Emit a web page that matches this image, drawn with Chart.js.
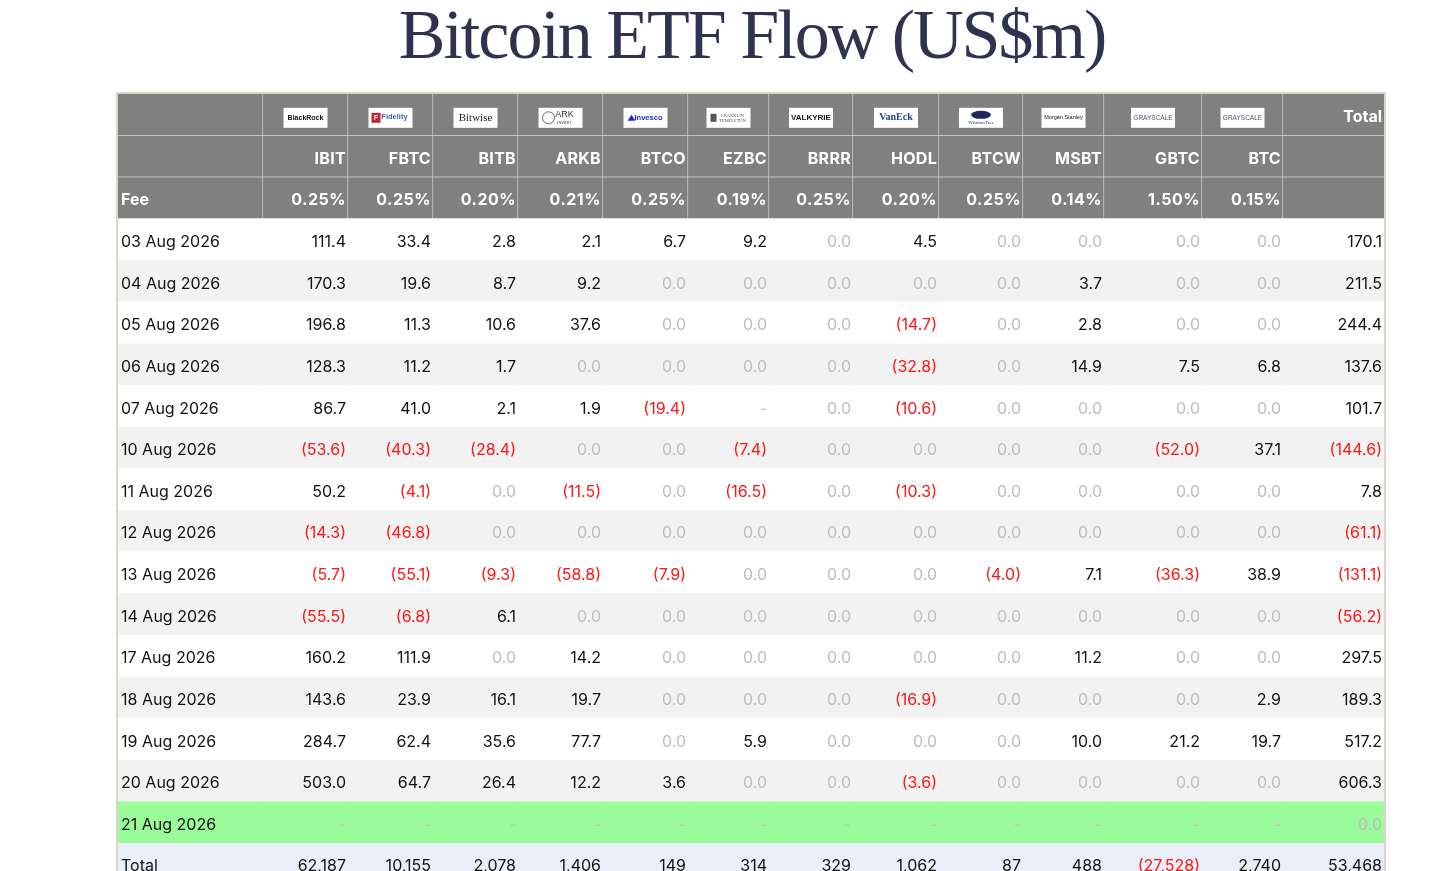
<!DOCTYPE html>
<html lang="en">
<head>
    <meta charset="UTF-8">
    <title>Bitcoin ETF Flow (US$m)</title>
    <script src="https://cdn.jsdelivr.net/npm/chart.js"></script>
    <style>
        * {
            margin: 0;
            padding: 0;
            box-sizing: border-box;
        }

        body {
            background: #ffffff;
            width: 1456px;
            height: 871px;
            overflow: hidden;
            position: relative;
        }

        h1 {
            position: absolute;
            top: 0;
            left: 752px;
            transform: translateX(-50%);
            white-space: nowrap;
            font-family: "Liberation Serif", "Times New Roman", serif;
            font-weight: normal;
            font-size: 70px;
            line-height: 70px;
            letter-spacing: -2px;
            color: #2f3350;
        }

        .table-wrap {
            position: absolute;
            left: 116px;
            top: 92px;
            width: 1270px;
            height: 796px;
        }
    </style>
</head>
<body>
    <h1>Bitcoin ETF Flow (US$m)</h1>
    <div class="table-wrap">
        <canvas id="flow-table"></canvas>
    </div>

    <script>
        // table content
        const dates = ['03 Aug 2026', '04 Aug 2026', '05 Aug 2026', '06 Aug 2026', '07 Aug 2026',
            '10 Aug 2026', '11 Aug 2026', '12 Aug 2026', '13 Aug 2026', '14 Aug 2026',
            '17 Aug 2026', '18 Aug 2026', '19 Aug 2026', '20 Aug 2026', '21 Aug 2026'];
        const tickers = ['IBIT', 'FBTC', 'BITB', 'ARKB', 'BTCO', 'EZBC', 'BRRR', 'HODL', 'BTCW', 'MSBT', 'GBTC', 'BTC'];
        const issuers = ['BlackRock', 'Fidelity', 'Bitwise', 'ARK', 'Invesco', 'FRANKLIN TEMPLETON',
            'VALKYRIE', 'VanEck', 'WisdomTree', 'Morgan Stanley', 'GRAYSCALE', 'GRAYSCALE'];
        const fees = [0.25, 0.25, 0.20, 0.21, 0.25, 0.19, 0.25, 0.20, 0.25, 0.14, 1.50, 0.15];

        // daily flows per fund, null = no figure yet
        const IBIT = [111.4, 170.3, 196.8, 128.3, 86.7, -53.6, 50.2, -14.3, -5.7, -55.5, 160.2, 143.6, 284.7, 503.0, null];
        const FBTC = [33.4, 19.6, 11.3, 11.2, 41.0, -40.3, -4.1, -46.8, -55.1, -6.8, 111.9, 23.9, 62.4, 64.7, null];
        const BITB = [2.8, 8.7, 10.6, 1.7, 2.1, -28.4, 0, 0, -9.3, 6.1, 0, 16.1, 35.6, 26.4, null];
        const ARKB = [2.1, 9.2, 37.6, 0, 1.9, 0, -11.5, 0, -58.8, 0, 14.2, 19.7, 77.7, 12.2, null];
        const BTCO = [6.7, 0, 0, 0, -19.4, 0, 0, 0, -7.9, 0, 0, 0, 0, 3.6, null];
        const EZBC = [9.2, 0, 0, 0, null, -7.4, -16.5, 0, 0, 0, 0, 0, 5.9, 0, null];
        const BRRR = [0, 0, 0, 0, 0, 0, 0, 0, 0, 0, 0, 0, 0, 0, null];
        const HODL = [4.5, 0, -14.7, -32.8, -10.6, 0, -10.3, 0, 0, 0, 0, -16.9, 0, -3.6, null];
        const BTCW = [0, 0, 0, 0, 0, 0, 0, 0, -4.0, 0, 0, 0, 0, 0, null];
        const MSBT = [0, 3.7, 2.8, 14.9, 0, 0, 0, 0, 7.1, 0, 11.2, 0, 10.0, 0, null];
        const GBTC = [0, 0, 0, 7.5, 0, -52.0, 0, 0, -36.3, 0, 0, 0, 21.2, 0, null];
        const BTC = [0, 0, 0, 6.8, 0, 37.1, 0, 0, 38.9, 0, 0, 2.9, 19.7, 0, null];
        const dailyTotal = [170.1, 211.5, 244.4, 137.6, 101.7, -144.6, 7.8, -61.1, -131.1, -56.2, 297.5, 189.3, 517.2, 606.3, 0.0];
        const fundTotals = [62187, 10155, 2078, 1406, 149, 314, 329, 1062, 87, 488, -27528, 2740];
        const grandTotal = 53468;

        const flows = [IBIT, FBTC, BITB, ARKB, BTCO, EZBC, BRRR, HODL, BTCW, MSBT, GBTC, BTC];

        // layout
        const colWidths = [145, 85, 85, 85, 85, 85, 81, 84, 86, 84, 81, 98, 81, 101];
        const rowKeys = ['logo', 'ticker', 'fee', ...dates, 'Total'];
        const HEADER_ROWS = 3;
        const FONT = 'Inter, "Liberation Sans", Arial, sans-serif';

        const colEdges = [0];
        colWidths.forEach(w => colEdges.push(colEdges[colEdges.length - 1] + w));
        const tableWidth = colEdges[colEdges.length - 1];

        function rowColor(r) {
            if (r < HEADER_ROWS) return '#808080';
            if (r === rowKeys.length - 1) return '#e9eef9';
            const d = r - HEADER_ROWS;
            if (d === dates.length - 1) return '#99fb99';
            return d % 2 ? '#f2f2f2' : '#ffffff';
        }

        function fmtDaily(v) {
            if (v === null) return { text: '-', color: '#c4c4c4' };
            if (v === 0) return { text: '0.0', color: '#bdbdbd' };
            if (v < 0) return { text: '(' + Math.abs(v).toFixed(1) + ')', color: '#ff1414' };
            return { text: v.toFixed(1), color: '#111111' };
        }

        function fmtTotal(v) {
            const s = Math.abs(v).toLocaleString('en-US');
            return v < 0 ? { text: '(' + s + ')', color: '#ff1414' } : { text: s, color: '#111111' };
        }

        function drawLogo(ctx, f, cx, cy) {
            const w = 44, h = 20;
            ctx.fillStyle = '#ffffff';
            ctx.fillRect(cx - w / 2, cy - h / 2, w, h);
            ctx.textAlign = 'center';
            ctx.textBaseline = 'middle';
            const name = issuers[f];
            switch (name) {
                case 'BlackRock':
                    ctx.font = 'bold 7px "Liberation Sans", Arial';
                    ctx.fillStyle = '#111';
                    ctx.fillText(name, cx, cy);
                    break;
                case 'Fidelity':
                    ctx.fillStyle = '#c4262e';
                    ctx.fillRect(cx - 19, cy - 5, 9, 10);
                    ctx.font = 'bold 7px "Liberation Sans", Arial';
                    ctx.fillStyle = '#fff';
                    ctx.fillText('F', cx - 14.5, cy);
                    ctx.fillStyle = '#3b63b5';
                    ctx.font = 'bold 7.5px "Liberation Sans", Arial';
                    ctx.fillText(name, cx + 4, cy - 1);
                    break;
                case 'Bitwise':
                    ctx.font = '11px "Liberation Serif", serif';
                    ctx.fillStyle = '#222';
                    ctx.fillText(name, cx, cy);
                    break;
                case 'ARK':
                    ctx.strokeStyle = '#444';
                    ctx.lineWidth = 0.8;
                    ctx.beginPath();
                    ctx.arc(cx - 12, cy, 6, 0, Math.PI * 2);
                    ctx.stroke();
                    ctx.font = '9px "Liberation Sans", Arial';
                    ctx.fillStyle = '#333';
                    ctx.fillText(name, cx + 4, cy - 3);
                    ctx.font = '4px "Liberation Sans", Arial';
                    ctx.fillText('INVEST', cx + 4, cy + 5);
                    break;
                case 'Invesco':
                    ctx.fillStyle = '#1d2fd6';
                    ctx.beginPath();
                    ctx.moveTo(cx - 18, cy + 3);
                    ctx.lineTo(cx - 14, cy - 3);
                    ctx.lineTo(cx - 10, cy + 3);
                    ctx.fill();
                    ctx.font = 'bold 7.5px "Liberation Sans", Arial';
                    ctx.fillText(name, cx + 3, cy);
                    break;
                case 'FRANKLIN TEMPLETON':
                    ctx.fillStyle = '#555';
                    ctx.fillRect(cx - 18, cy - 4, 6, 8);
                    ctx.font = '4.5px "Liberation Serif", serif';
                    ctx.fillText('FRANKLIN', cx + 4, cy - 2.5);
                    ctx.fillText('TEMPLETON', cx + 4, cy + 2.5);
                    break;
                case 'VALKYRIE':
                    ctx.font = 'bold 8px "Liberation Sans", Arial';
                    ctx.fillStyle = '#111';
                    ctx.fillText(name, cx, cy);
                    break;
                case 'VanEck':
                    ctx.font = 'bold 10px "Liberation Serif", serif';
                    ctx.fillStyle = '#1d3f9a';
                    ctx.fillText(name, cx, cy);
                    break;
                case 'WisdomTree':
                    ctx.fillStyle = '#1e2a5e';
                    ctx.beginPath();
                    ctx.ellipse(cx, cy - 3, 10, 4, 0, 0, Math.PI * 2);
                    ctx.fill();
                    ctx.font = '5px "Liberation Serif", serif';
                    ctx.fillText(name, cx, cy + 5);
                    break;
                case 'Morgan Stanley':
                    ctx.font = '5.5px "Liberation Sans", Arial';
                    ctx.fillStyle = '#111';
                    ctx.fillText(name, cx, cy);
                    break;
                default:
                    ctx.font = '6.5px "Liberation Sans", Arial';
                    ctx.fillStyle = '#4e4e70';
                    ctx.fillText(name, cx, cy);
            }
        }

        function drawCell(ctx, c, r, left, right, y) {
            const last = rowKeys.length - 1;
            const isFund = c >= 1 && c <= tickers.length;
            const f = c - 1;
            let text = '', color = '#111111', align = 'right', bold = false, spacing = '0px';

            if (r === 0) {
                if (isFund) { drawLogo(ctx, f, (left + right) / 2, y + 3); return; }
                if (c === colWidths.length - 1) { text = 'Total'; color = '#ffffff'; bold = true; }
            } else if (r === 1) {
                if (isFund) { text = tickers[f]; color = '#ffffff'; bold = true; spacing = '0.3px'; }
            } else if (r === 2) {
                color = '#ffffff'; bold = true;
                if (c === 0) { text = 'Fee'; align = 'left'; }
                else if (isFund) { text = fees[f].toFixed(2) + '%'; spacing = '0.5px'; }
            } else if (r === last) {
                if (c === 0) { text = 'Total'; align = 'left'; }
                else {
                    const cell = fmtTotal(isFund ? fundTotals[f] : grandTotal);
                    text = cell.text; color = cell.color;
                }
            } else {
                const d = r - HEADER_ROWS;
                if (c === 0) { text = dates[d]; align = 'left'; }
                else {
                    const cell = fmtDaily(isFund ? flows[f][d] : dailyTotal[d]);
                    text = cell.text; color = cell.color;
                }
            }
            if (!text) return;
            ctx.font = (bold ? 'bold ' : '') + '16px ' + FONT;
            ctx.letterSpacing = spacing;
            ctx.fillStyle = color;
            ctx.textAlign = align;
            ctx.textBaseline = 'middle';
            ctx.fillText(text, align === 'left' ? left + 3 : right - 2, y + 2.5);
            ctx.letterSpacing = '0px';
        }

        const tablePlugin = {
            id: 'tableCells',
            afterDatasetsDraw(chart) {
                const ctx = chart.ctx;
                ctx.save();
                chart.data.datasets.forEach((ds, c) => {
                    const meta = chart.getDatasetMeta(c);
                    meta.data.forEach((el, r) => {
                        const p = el.getProps(['x', 'base', 'y'], true);
                        drawCell(ctx, c, r, Math.min(p.x, p.base), Math.max(p.x, p.base), p.y);
                    });
                });
                // outer frame
                const area = chart.chartArea;
                ctx.strokeStyle = '#dad6c9';
                ctx.lineWidth = 2;
                ctx.strokeRect(area.left - 1, area.top - 1, area.right - area.left + 2, area.bottom - area.top + 2);
                ctx.restore();
            }
        };

        const datasets = colWidths.map((w, c) => ({
            label: c === 0 ? 'label' : (c <= tickers.length ? tickers[c - 1] : 'Total'),
            data: rowKeys.map(() => [colEdges[c], colEdges[c + 1]]),
            backgroundColor: rowKeys.map((k, r) => rowColor(r)),
            borderColor: '#cdcdcd',
            borderWidth: (ctx) => ctx.dataIndex < HEADER_ROWS
                ? { top: 0, left: 0, right: c < colWidths.length - 1 ? 1 : 0, bottom: 1 }
                : 0,
            borderSkipped: false,
            grouped: false,
            barPercentage: 1,
            categoryPercentage: 1
        }));

        new Chart(document.getElementById('flow-table'), {
            type: 'bar',
            data: { labels: rowKeys, datasets: datasets },
            options: {
                indexAxis: 'y',
                responsive: true,
                maintainAspectRatio: false,
                animation: false,
                events: [],
                layout: { padding: { left: 2, right: 2, top: 2, bottom: 3 } },
                plugins: {
                    legend: { display: false },
                    tooltip: { enabled: false }
                },
                scales: {
                    x: { type: 'linear', min: 0, max: tableWidth, display: false },
                    y: { type: 'category', display: false, offset: true }
                }
            },
            plugins: [tablePlugin]
        });
    </script>
</body>
</html>
